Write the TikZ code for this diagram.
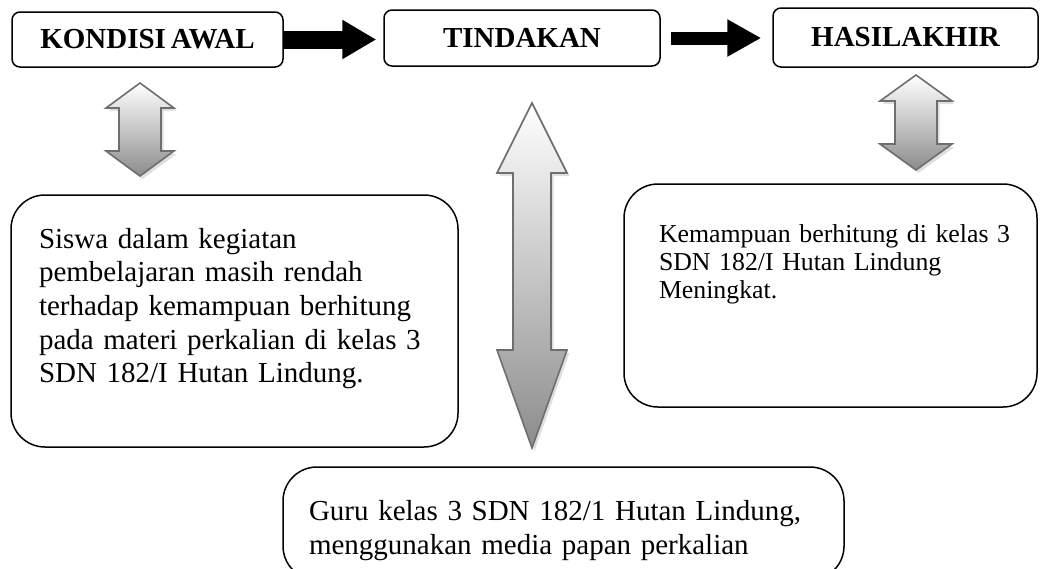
\documentclass[tikz,border=0pt]{standalone}
\usepackage{fontspec}
\setmainfont{Liberation Serif}
\usetikzlibrary{positioning, arrows.meta, shadows}
\definecolor{arrowedge}{HTML}{6E6E6E}
\definecolor{arrowgray}{HTML}{8C8C8C}

\tikzset{
  titlebox/.style={draw, line width=1.5pt, rounded corners=8pt, inner sep=0pt, font=\fontsize{29}{34}\selectfont\bfseries},
  textbox/.style={draw, line width=1.5pt, rounded corners=34pt, inner ysep=0pt, align=left},
  flowarrow/.style={-{Triangle[length=34pt,width=37pt]}, line width=18pt},
  blockarrow/.style={draw=arrowedge, line width=1.6pt, top color=white, bottom color=arrowgray,
    drop shadow={shadow xshift=2.5pt, shadow yshift=-3pt, opacity=0.25}},
}

\begin{document}
\begin{tikzpicture}[x=1pt, y=-1pt]
\useasboundingbox (0,0) rectangle (1040,568);
\clip (0,0) rectangle (1040,568);

\node[titlebox, minimum width=271pt, minimum height=55pt] at (147.5,39.5) (awal) {KONDISI\,AWAL};
\node[titlebox, minimum width=276pt, minimum height=56pt] at (522,38) (tindakan) {TINDAKAN};
\node[titlebox, minimum width=265pt, minimum height=59pt] at (905.5,37.5) (akhir) {HASILAKHIR};

\node[textbox, font=\fontsize{29}{33.7}\selectfont, inner xsep=28pt, text width=391pt, minimum height=252pt,
  text height=20pt, text depth=166pt] at (234.5,321) (kondisi)
  {Siswa dalam kegiatan\\ pembelajaran masih rendah\\ terhadap kemampuan berhitung\\ pada materi perkalian di kelas~3\\ SDN 182/I Hutan Lindung.};
\node[textbox, font=\fontsize{25.8}{28}\selectfont, inner xsep=35pt, text width=343pt, minimum height=223pt,
  text height=20pt, text depth=127pt] at (830.5,295.5) (hasil)
  {\mbox{Kemampuan berhitung di kelas 3}\\ SDN 182/I Hutan Lindung\\ Meningkat.};
\node[textbox, font=\fontsize{29}{34}\selectfont, inner xsep=26pt, text width=509pt, minimum height=113pt,
  text height=20pt, text depth=27pt] at (563.5,523.5) (guru)
  {Guru kelas 3 SDN 182/1 Hutan Lindung,\\ menggunakan media papan perkalian};

\draw[flowarrow, shorten >=7pt] (awal.east) -- (awal.east -| tindakan.west);
\draw[flowarrow, line width=13pt, -{Triangle[length=34pt,width=35pt]}, shorten <=10pt, shorten >=11pt]
  (tindakan.east) -- (tindakan.east -| akhir.west);

\path[blockarrow] (140,83) -- (174,108) -- (161,108) -- (161,151) -- (174,151) -- (140,176)
  -- (106,151) -- (119,151) -- (119,108) -- (106,108) -- cycle;
\path[blockarrow] (916,75) -- (952,101) -- (937,101) -- (937,144) -- (952,144) -- (916,170)
  -- (880,144) -- (895,144) -- (895,101) -- (880,101) -- cycle;
\path[blockarrow] (532,103) -- (567,173) -- (551,173) -- (551,350) -- (567,350) -- (532,448)
  -- (497,350) -- (513,350) -- (513,173) -- (497,173) -- cycle;
\end{tikzpicture}
\end{document}
